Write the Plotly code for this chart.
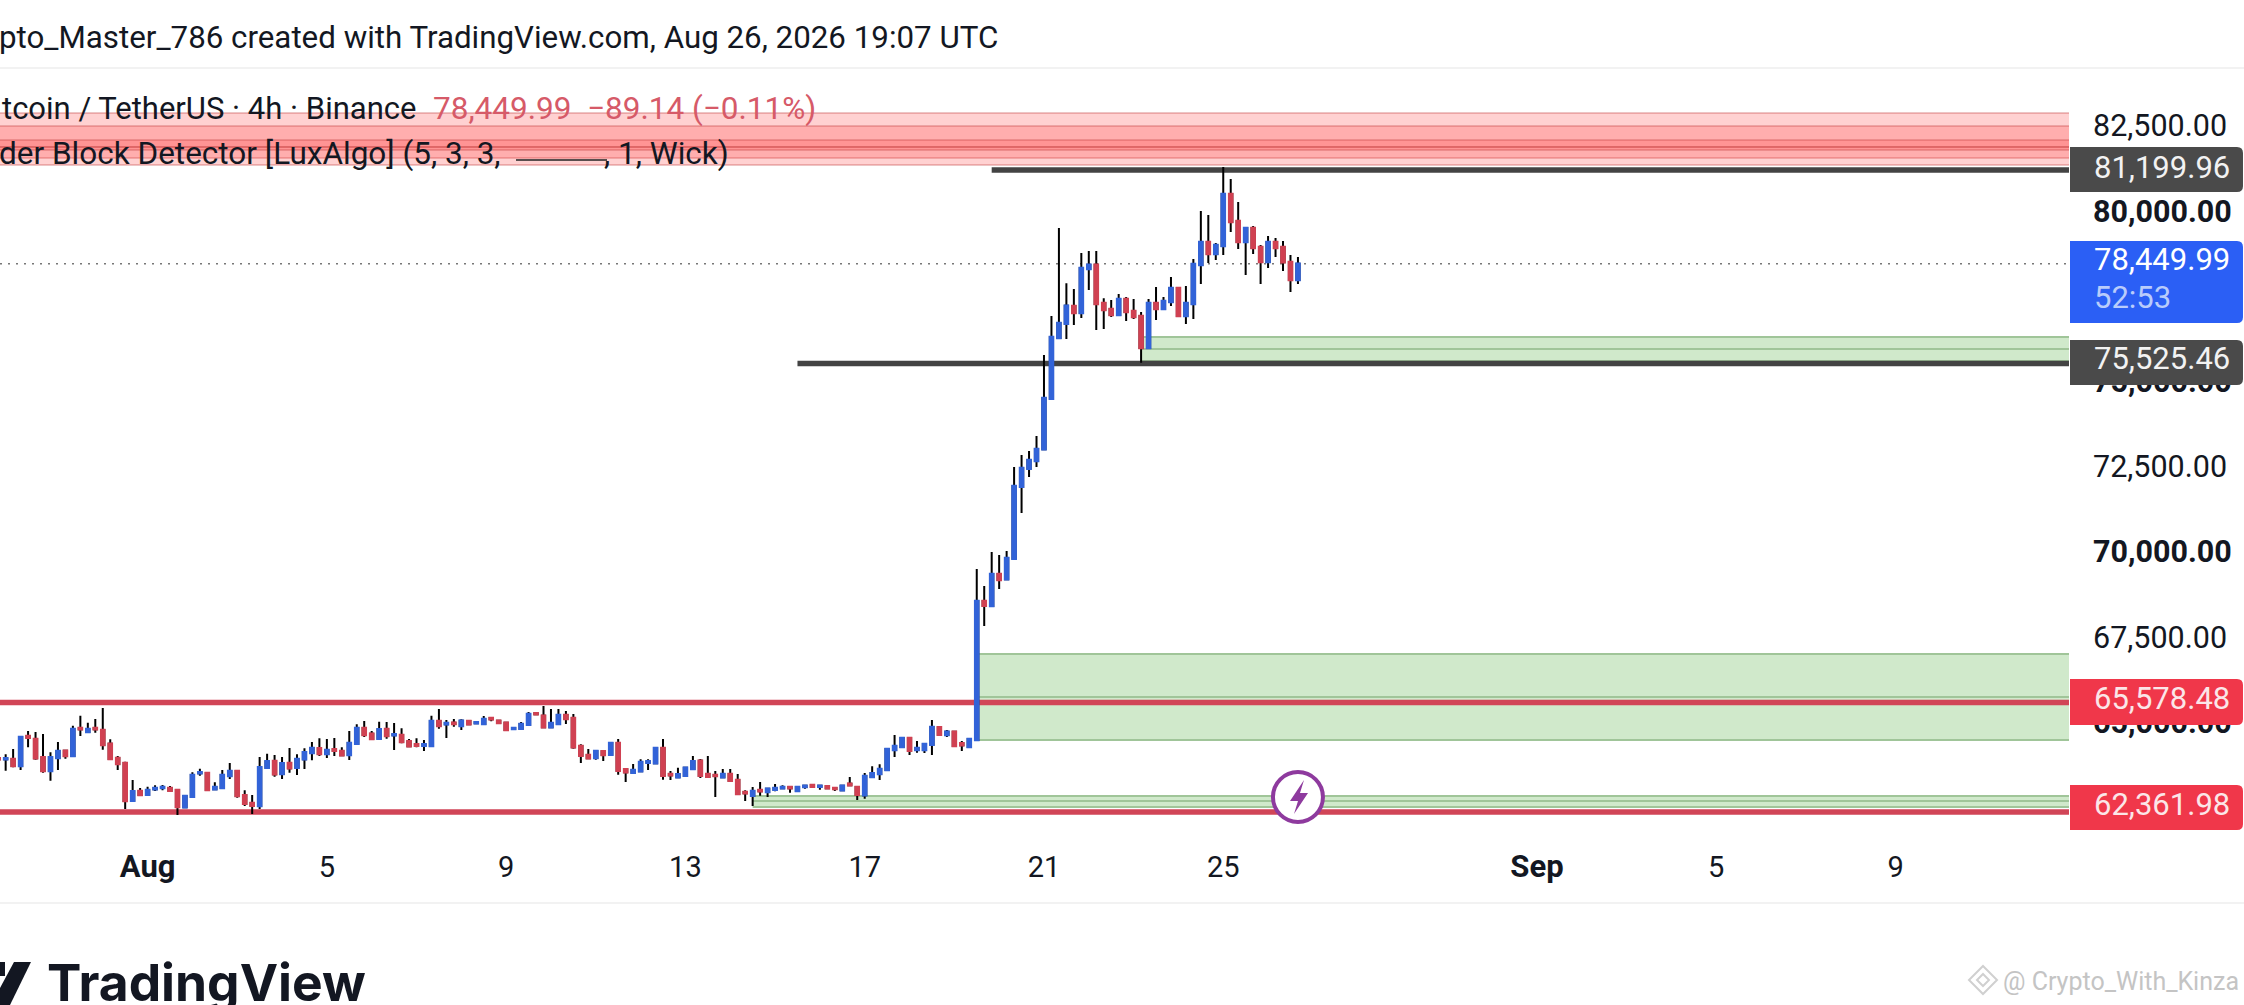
import pandas as pd
import plotly.graph_objects as go

W, H = 2244, 1005

FIRST_CANDLE = "2026-07-28 16:00"
opens = [63938,
 63909,63918,63713,64593,64505,63967,63566,63948,64163,64006,
 64828,64711,64828,64769,64368,63948,63801,62696,62980,62872,
 63028,63067,63067,63009,62500,62813,63498,63508,63028,63067,
 63420,63566,62852,62627,62539,63664,63860,63478,63801,63664,
 63909,64094,64231,64065,64202,64153,64036,64368,64828,64662,
 64515,64799,64613,64622,64437,64349,64310,64300,65033,64935,
 64984,64887,65033,64965,64945,65121,65043,64984,64799,64808,
 64926,65258,65190,64847,64945,65209,65121,64300,64036,63948,
 64143,64046,64388,63615,63517,63556,63811,63791,64241,63478,
 63380,63429,63625,63870,63478,63449,63380,63478,63302,62950,
 62843,63009,62950,63019,63058,63097,62980,63097,63156,63107,
 63116,63067,62999,63195,63097,62852,63390,63478,63596,64182,
 64270,64534,64182,64182,64339,64847,64622,64720,64378,64270,
 64477,68555,68408,69347,69191,69797,71909,72437,72663,73005,
 74491,76271,76691,77210,77004,78295,78422,77298,77122,76946,
 77415,77063,76916,75977,77298,77122,77327,77738,76916,77268,
 78413,79087,78735,78970,80496,79704,79087,79498,78941,78500,
 79087,78941,78500,77972]
closes = [63909,
 63938,63713,64564,64544,63938,63566,63967,64153,64006,64799,
 64789,64799,64789,64329,63918,63772,62686,62970,62862,63009,
 63067,63097,62989,62510,62833,63449,63527,63009,63097,63449,
 63566,62833,62608,62549,63674,63850,63468,63791,63645,63918,
 64114,64241,64065,64182,64163,64026,64388,64828,64622,64505,
 64789,64593,64642,64417,64290,64310,64349,65033,64887,64975,
 64945,65043,64935,64994,65092,65082,64975,64769,64828,64945,
 65239,65229,64847,64975,65209,65092,64261,64016,63938,64153,
 64036,64388,63576,63527,63596,63830,63850,64241,63429,63439,
 63468,63664,63850,63429,63400,63420,63478,63283,62891,62911,
 62980,62970,63048,63067,63097,63058,63097,63136,63107,63136,
 63058,63038,63136,63146,62872,63420,63498,63625,64212,64300,
 64534,64163,64241,64358,64857,64632,64720,64300,64319,64505,
 68555,68418,69347,69171,69816,71929,72457,72692,73015,74511,
 76300,76711,77219,77004,78324,78422,77268,77092,76946,77415,
 77034,76887,75977,77298,77122,77356,77738,76916,77298,78442,
 79087,78735,78999,80496,79674,79087,79498,78911,78500,79087,
 78911,78491,77972,78450]
highs = [63990,
 64055,64212,64564,64740,64711,64652,64114,64417,64182,64896,
 65190,64984,65092,65415,64495,64006,63840,63302,63067,63107,
 63146,63156,63126,63028,62862,63527,63635,63537,63234,63596,
 63801,63586,62999,62862,63977,64075,64036,63977,64241,64055,
 64231,64417,64525,64505,64534,64261,64740,64935,65033,64740,
 65014,65004,64975,64818,64505,64525,64476,65190,65385,65063,
 65092,65082,65063,65033,65180,65151,65063,65004,64838,65004,
 65297,65258,65473,65385,65385,65327,65239,64349,64212,64182,
 64163,64388,64505,63654,63772,63909,63909,64241,64505,63566,
 63664,63693,64006,63918,64006,63566,63625,63625,63478,62999,
 63097,63244,63077,63185,63146,63097,63116,63146,63185,63156,
 63156,63087,63146,63390,63126,63508,63703,63762,64212,64622,
 64564,64554,64447,64378,65063,64887,64769,64750,64447,64534,
 69494,68995,69993,69905,70022,72486,72839,72956,73396,75772,
 76916,79498,77875,77708,78765,78823,78823,77435,77386,77562,
 77474,77415,77034,77415,77767,77474,78060,77738,77796,78589,
 79997,79880,79058,81288,80936,80261,79498,79557,78999,79263,
 79205,79117,78706,78647]
lows = [63890,
 63576,63674,63596,64261,63899,63517,63283,63596,63928,63987,
 64593,64691,64691,64192,63899,63596,62451,62686,62833,62862,
 62980,62999,62980,62275,62481,62813,63429,62980,63009,63058,
 63332,62784,62539,62305,62451,63645,63400,63332,63517,63449,
 63625,63879,64006,63948,64006,64006,63889,64358,64564,64476,
 64505,64515,64182,64378,64261,64261,64153,64300,64808,64534,
 64867,64769,64926,64955,64935,65024,64965,64740,64769,64799,
 64906,65219,64828,64828,64926,64945,64222,63801,63918,63899,
 63860,64036,63459,63244,63508,63537,63596,63772,63312,63302,
 63371,63420,63605,63361,63390,62803,63361,63273,62882,62686,
 62539,62843,62803,62970,63038,62931,62960,63048,63077,63019,
 63038,62980,62989,63126,62715,62755,63380,63302,63586,63977,
 64261,64036,64104,64094,64036,64622,64564,64280,64153,64251,
 64477,67821,68389,68907,69171,69787,71137,72193,72486,73005,
 74491,76251,76241,76652,76857,77679,76505,76535,76887,76946,
 76770,76828,75547,75948,76799,77122,77210,76897,76681,76828,
 77855,78471,78559,78706,79381,78882,78119,78735,77855,78324,
 78647,78236,77620,77855]

y_ticks = [65000, 67500, 70000, 72500, 75000, 80000, 82500]
y_bold = [65000, 70000, 75000, 80000]
x_ticks = ["2026-08-01", "2026-08-05", "2026-08-09", "2026-08-13", "2026-08-17",
           "2026-08-21", "2026-08-25", "2026-09-01", "2026-09-05", "2026-09-09"]
x_labels = ['<b style="font-size:31px">Aug</b>', "5", "9", "13", "17", "21", "25",
            '<b style="font-size:31px">Sep</b>', "5", "9"]

X_RANGE = ["2026-07-28 16:58", "2026-09-12 20:53"]
Y_RANGE = [61689, 84193]

last_price = 78449.99
resistance_high = 81199.96
support_high = 75525.46
range_high = 65578.48
range_low = 62361.98

red_blocks = [(82872, 81552), (82491, 81347), (82080, 81875), (81875, 81787)]
green_blocks = [("2026-08-19 12:00", 67000, 65738), ("2026-08-19 12:00", 65738, 64476),
                ("2026-08-23 04:00", 76300, 75948), ("2026-08-23 04:00", 75948, 75596),
                ("2026-08-14 12:00", 62833, 62686), ("2026-08-14 12:00", 62686, 62510)]

BLUE = "#3263d8"
RED = "#d04152"
LINE_RED = "#d14557"
DARK = "#434343"
FONT = "Roboto"
PLOT_R = 2069
PLOT_T, PLOT_B = 68, 835


def px(x):
    return x / W


def py(y):
    return 1 - y / H


dates = pd.date_range(FIRST_CANDLE, periods=len(opens), freq="4h")
body_high = [max(o, c) for o, c in zip(opens, closes)]
body_low = [min(o, c) for o, c in zip(opens, closes)]

fig = go.Figure()
# wicks (black), bodies are laid exactly over them by a second candlestick
fig.add_trace(go.Candlestick(
    x=dates, open=opens, high=highs, low=lows, close=closes, whiskerwidth=0,
    increasing=dict(line=dict(color="#000000", width=2), fillcolor="#000000"),
    decreasing=dict(line=dict(color="#000000", width=2), fillcolor="#000000"),
    hoverinfo="skip", showlegend=False))
fig.add_trace(go.Candlestick(
    x=dates, open=opens, high=body_high, low=body_low, close=closes, whiskerwidth=0,
    increasing=dict(line=dict(color=BLUE, width=2.5), fillcolor=BLUE),
    decreasing=dict(line=dict(color=RED, width=2.5), fillcolor=RED),
    hoverinfo="skip", showlegend=False))
fig.add_trace(go.Scatter(
    x=["2026-08-26 16:00"], y=[62804], mode="markers", hoverinfo="skip", showlegend=False,
    marker=dict(size=50, color="#ffffff", line=dict(color="#8e3a9e", width=4))))

shapes = []


def band(start, top, bot, fill, edge, w):
    shapes.append(dict(type="rect", layer="below", xref="x", yref="y", x0=start, x1=X_RANGE[1],
                       y0=bot, y1=top, fillcolor=fill, line=dict(width=0)))
    for lv in (top, bot):
        shapes.append(dict(type="line", layer="below", xref="x", yref="y", x0=start, x1=X_RANGE[1],
                           y0=lv, y1=lv, line=dict(color=edge, width=w)))


for top, bot in red_blocks:
    band(X_RANGE[0], top, bot, "rgba(255,70,70,0.25)", "rgba(190,60,60,0.4)", 1.5)
for start, top, bot in green_blocks:
    band(start, top, bot, "#d0e9cb", "#a0c599", 2)
shapes.append(dict(type="line", layer="below", xref="x", yref="y", x0=X_RANGE[0], x1=X_RANGE[1],
                   y0=last_price, y1=last_price, line=dict(color="#777777", width=1.5, dash="2px,6px")))
for start, level, color in [(X_RANGE[0], range_high, LINE_RED), (X_RANGE[0], range_low, LINE_RED),
                            ("2026-08-19 20:00", resistance_high, DARK),
                            ("2026-08-15 12:00", support_high, DARK)]:
    shapes.append(dict(type="line", layer="below", xref="x", yref="y", x0=start, x1=X_RANGE[1],
                       y0=level, y1=level, line=dict(color=color, width=5.5)))


def paper_path(points, fill):
    d = "M " + " L ".join(f"{px(a):.5f},{py(b):.5f}" for a, b in points) + " Z"
    return dict(type="path", layer="above", xref="paper", yref="paper", path=d,
                fillcolor=fill, line=dict(width=0))


def tag(y0, y1, color, r=6):
    x0, x1 = 2070, 2243
    a0, a1, b0, b1 = px(x0), px(x1), py(y0), py(y1)
    rx, ry = r / W, r / H
    d = (f"M {a0:.5f},{b0:.5f} L {a1 - rx:.5f},{b0:.5f} Q {a1:.5f},{b0:.5f} {a1:.5f},{b0 - ry:.5f} "
         f"L {a1:.5f},{b1 + ry:.5f} Q {a1:.5f},{b1:.5f} {a1 - rx:.5f},{b1:.5f} L {a0:.5f},{b1:.5f} Z")
    return dict(type="path", layer="above", xref="paper", yref="paper", path=d, fillcolor=color, line=dict(width=0))


shapes += [tag(147, 192, "#4a4a4a"), tag(241, 323, "#2b5ff5"), tag(340, 385, "#4a4a4a"),
           tag(679, 725, "#f0374a"), tag(785, 830, "#f0374a")]
# hairlines, legend line sample, logo, watermark mark, bolt
for y in (68, 903):
    shapes.append(dict(type="line", layer="below", xref="paper", yref="paper", x0=0, x1=1,
                       y0=py(y), y1=py(y), line=dict(color="#eeeeee", width=1.5)))
shapes.append(dict(type="line", layer="above", xref="paper", yref="paper", x0=px(516), x1=px(607),
                   y0=py(160), y1=py(160), line=dict(color="#222222", width=1.5)))
shapes.append(paper_path([(14, 962), (31, 962), (10, 1005), (0, 1005), (0, 988)], "#131722"))
shapes.append(paper_path([(0, 962), (5, 962), (5, 976), (0, 976)], "#131722"))
shapes.append(paper_path([(1304, 780), (1290, 801), (1298, 801), (1294, 814), (1308, 793), (1300, 793)], "#8e3a9e"))
for half, width in ((14, 2), (6, 2)):
    shapes.append(dict(type="path", layer="above", xref="paper", yref="paper",
                       path=" ".join([f"M {px(1983):.5f},{py(980 - half):.5f}", f"L {px(1983 + half):.5f},{py(980):.5f}",
                                      f"L {px(1983):.5f},{py(980 + half):.5f}", f"L {px(1983 - half):.5f},{py(980):.5f} Z"]),
                       fillcolor="rgba(0,0,0,0)", line=dict(color="#d0d0d0", width=width)))


def note(text, x, y, size=29, color="#131722", anchor="left", family=FONT):
    return dict(text=text, xref="paper", yref="paper", x=px(x), y=py(y), xanchor=anchor, yanchor="middle",
                showarrow=False, font=dict(family=family, size=size, color=color), align=anchor)


annotations = [
    note("pto_Master_786 created with TradingView.com, Aug 26, 2026 19:07 UTC", 1000, 37, 31.3, anchor="right"),
    note("tcoin / TetherUS · 4h · Binance", 418, 109, 31, anchor="right"),
    note("78,449.99  −89.14 (−0.11%)", 431, 109, 31.5, "#d65a68"),
    note("der Block Detector [LuxAlgo] (5, 3, 3,", 503, 153, 31.5, anchor="right"),
    note(", 1, Wick)", 602, 153, 31.5),
    note(f"{resistance_high:,.2f}", 2092, 168, 31, "#f2f2f2"),
    note(f"{last_price:,.2f}", 2092, 260, 31, "#ffffff"),
    note("52:53", 2092, 297, 31, "#b9ccfb"),
    note(f"{support_high:,.2f}", 2092, 359, 31, "#f2f2f2"),
    note(f"{range_high:,.2f}", 2092, 698, 31, "#fbe6e8"),
    note(f"{range_low:,.2f}", 2092, 804, 31, "#fbe6e8"),
    note("<b>TradingView</b>", 45, 982, 51.5, "#131722", family="Inter"),
    note("@ Crypto_With_Kinza", 2001, 981, 25, "#c4c4c4"),
]

fig.update_layout(
    width=W, height=H, autosize=False, margin=dict(l=0, r=0, t=0, b=0, pad=0),
    paper_bgcolor="#ffffff", plot_bgcolor="#ffffff", boxgap=0.4, boxmode="overlay",
    showlegend=False, shapes=shapes, annotations=annotations, hovermode=False,
    font=dict(family=FONT, color="#131722"),
    xaxis=dict(type="date", domain=[0, PLOT_R / W], range=X_RANGE, rangeslider=dict(visible=False),
               showgrid=False, zeroline=False, showline=False, ticks="", automargin=False,
               tickmode="array", tickvals=x_ticks, ticktext=x_labels, ticklabelstandoff=12,
               tickfont=dict(family=FONT, size=29, color="#131722"), anchor="y"),
    yaxis=dict(side="right", domain=[py(PLOT_B), py(PLOT_T)], range=Y_RANGE, showgrid=False, zeroline=False,
               showline=False, ticks="", automargin=False, tickmode="array", tickvals=y_ticks,
               ticktext=[f"<b>{v:,.2f}</b>" if v in y_bold else f"{v:,.2f}" for v in y_ticks],
               ticklabelstandoff=23, tickfont=dict(family=FONT, size=30.5, color="#131722"), anchor="x"),
)

fig.write_html("out.html", config={"displayModeBar": False},
               post_script="document.body.style.margin='0';")
